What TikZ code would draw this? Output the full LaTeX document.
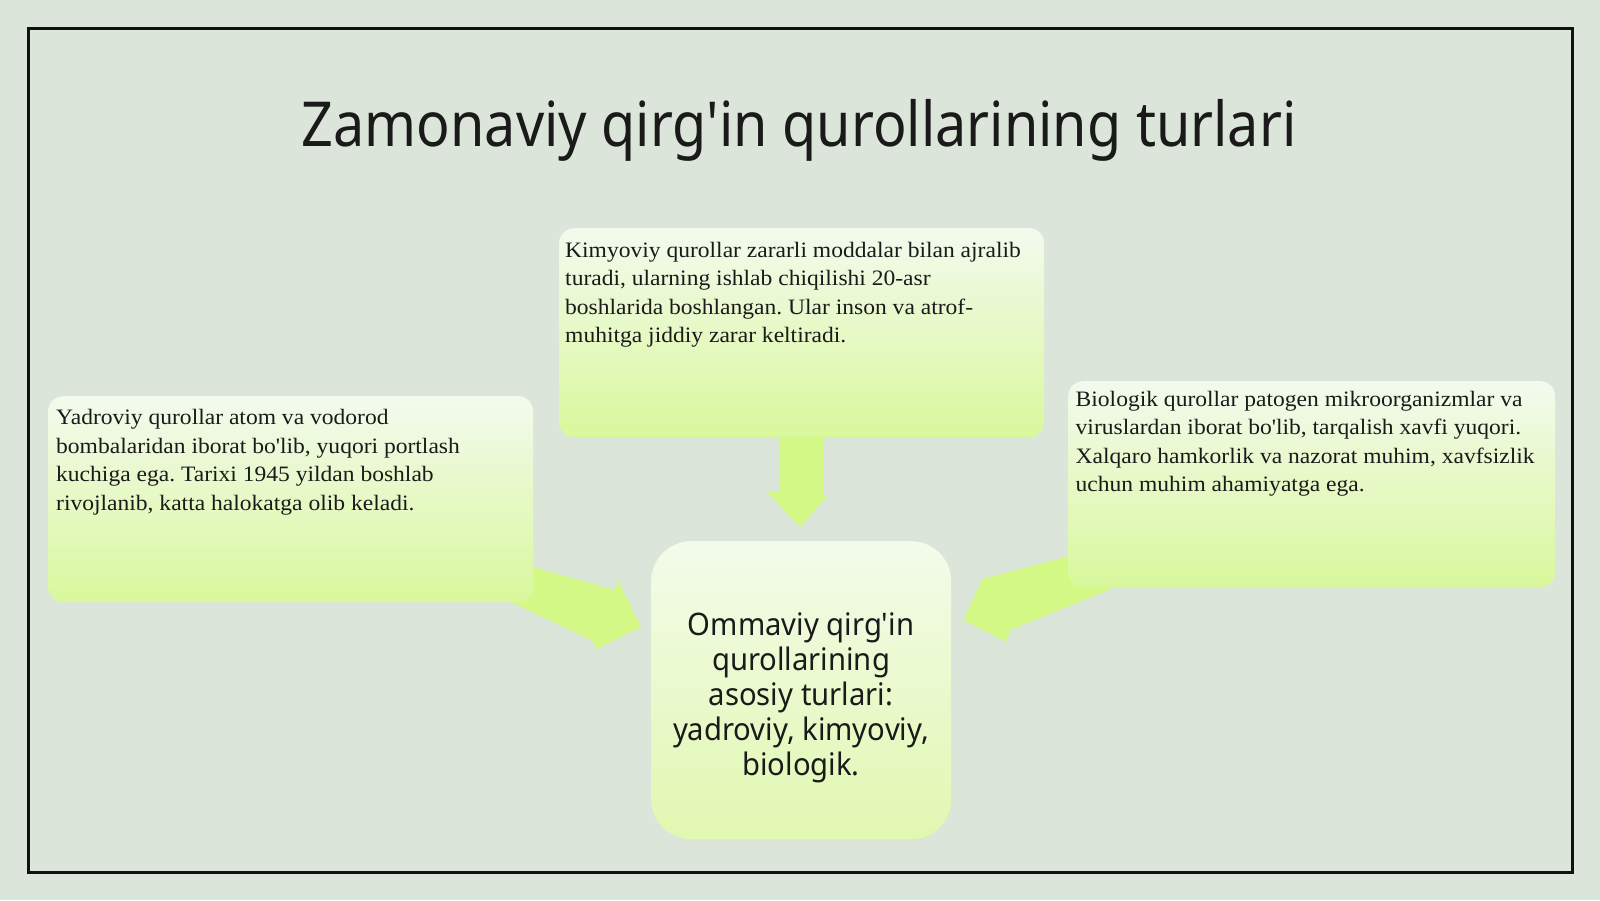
\documentclass[tikz,border=0pt]{standalone}
\usepackage{fontspec}
\setmainfont{Liberation Serif}[Ligatures=TeXOff, FakeStretch=1.07]
\newfontfamily\titlefont{Noto Sans}[Ligatures=TeXOff, FakeStretch=0.898]
\newfontfamily\centerfont{Noto Sans}[Ligatures=TeXOff, FakeStretch=0.943]
\frenchspacing
\definecolor{bg}{HTML}{DCE5D9}
\definecolor{framec}{HTML}{111111}
\definecolor{arrowg}{HTML}{D5F987}
\definecolor{boxtop}{HTML}{F3FAEE}
\definecolor{boxmid}{HTML}{E8F9CC}
\definecolor{boxbot}{HTML}{D9F89C}
\definecolor{ctop}{HTML}{F3FBEA}
\definecolor{cmid}{HTML}{EBF9D0}
\definecolor{cbot}{HTML}{E1F8B0}
\definecolor{ink}{HTML}{1A1A1A}
\begin{document}
\begin{tikzpicture}[x=1pt,y=-1pt,
  sidebox/.style={draw=none, rounded corners=15pt, inner sep=0pt,
    top color=boxtop, middle color=boxmid, bottom color=boxbot, anchor=north west},
  centerbox/.style={draw=none, rounded corners=40pt, inner sep=0pt,
    top color=ctop, middle color=cmid, bottom color=cbot, anchor=north west},
  bodytext/.style={anchor=base west, align=left, inner sep=0pt, text=ink,
    font=\fontsize{22}{28.6}\selectfont},
  blockarrow/.style={fill=arrowg, draw=none}]
\fill[bg] (0,0) rectangle (1600,900);
\useasboundingbox (0,0) rectangle (1600,900);
\draw[line width=3pt, framec] (28,28) rectangle (1572,872);

\node[anchor=base, inner sep=0pt, text=ink, font=\titlefont\fontsize{62}{70}\selectfont] (title) at (799,146) {Zamonaviy qirg'in qurollarining turlari};

% block arrows (drawn below the boxes)
\fill[blockarrow] (779,430) -- (779,492) -- (767,492) -- (800,527) -- (827,496) -- (823,496) -- (823,430) -- cycle;
\fill[blockarrow] (500,558) -- (615,590) -- (618,580) -- (641,627) -- (596,649) -- (593,641) -- (490,592) -- cycle;
\fill[blockarrow] (1100,548) -- (990,577) -- (983,578) -- (963,620) -- (1007,642) -- (1010,630) -- (1118,586) -- cycle;

% boxes
\node[sidebox, minimum width=485pt, minimum height=206pt] (left) at (48,396) {};
\node[sidebox, minimum width=485pt, minimum height=209pt] (top) at (559,228) {};
\node[sidebox, minimum width=487pt, minimum height=206pt] (right) at (1068,381) {};
\node[centerbox, minimum width=300pt, minimum height=298pt] (center) at (651,541) {};

% texts (base anchor = baseline of the last line)
\node[bodytext] (lefttext) at (56,510.3) {Yadroviy qurollar atom va vodorod\\bombalaridan iborat bo'lib, yuqori portlash\\kuchiga ega. Tarixi 1945 yildan boshlab\\rivojlanib, katta halokatga olib keladi.};
\node[bodytext] (toptext) at (565,342.8) {Kimyoviy qurollar zararli moddalar bilan ajralib\\turadi, ularning ishlab chiqilishi 20-asr\\boshlarida boshlangan. Ular inson va atrof-\\muhitga jiddiy zarar keltiradi.};
\node[bodytext] (righttext) at (1075.5,491.8) {Biologik qurollar patogen mikroorganizmlar va\\viruslardan iborat bo'lib, tarqalish xavfi yuqori.\\Xalqaro hamkorlik va nazorat muhim, xavfsizlik\\uchun muhim ahamiyatga ega.};
\node[anchor=base, align=center, inner sep=0pt, text=ink, font=\centerfont\fontsize{31}{35.2}\selectfont] (centertext) at (801,775.8) {Ommaviy qirg'in\\qurollarining\\asosiy turlari:\\yadroviy, kimyoviy,\\biologik.};
\end{tikzpicture}
\end{document}
